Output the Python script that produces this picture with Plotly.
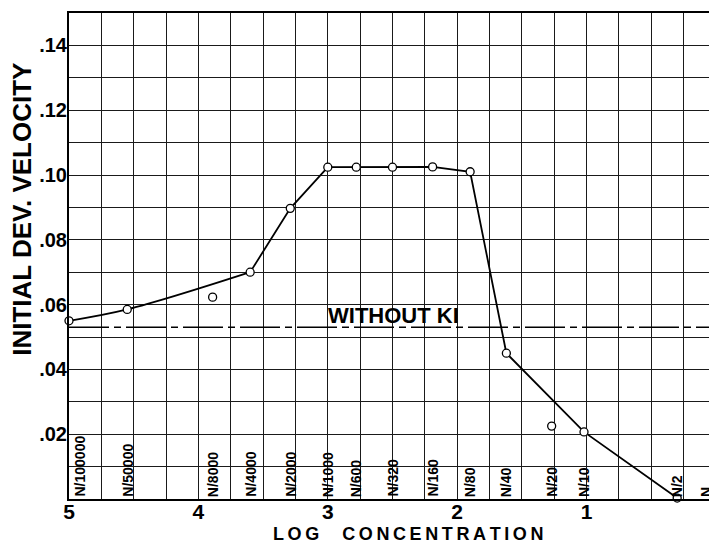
import plotly.graph_objects as go

# ---- data ----
conc_labels = ["N/100000", "N/50000", "N/8000", "N/4000", "N/2000", "N/1000", "N/600",
               "N/320", "N/160", "N/80", "N/40", "N/20", "N/10", "N/2", "N"]
log_conc = [5.0, 4.55, 3.89, 3.60, 3.29, 3.0, 2.78, 2.5, 2.19, 1.90, 1.62, 1.27, 1.02, 0.30, 0.0]
velocity = [0.055, 0.0585, 0.0623, 0.070, 0.0897, 0.1024, 0.1024, 0.1024, 0.1025, 0.101,
            0.045, 0.0225, 0.0207, 0.0003]
smooth_part = [0, 1, 3]                      # indices joined by the smooth curve
straight_part = [3, 4, 5, 6, 7, 8, 9, 10, 12, 13]   # indices joined by straight segments
without_ki = 0.053
without_ki_label = "WITHOUT KI"

x_ticks = [5, 4, 3, 2, 1]
y_ticks = [0.02, 0.04, 0.06, 0.08, 0.10, 0.12, 0.14]
y_ticktext = [".02", ".04", ".06", ".08", ".10", ".12", ".14"]

FONT = "Liberation Sans, Arial, sans-serif"

fig = go.Figure()

# smooth low part
fig.add_trace(go.Scatter(
    x=[log_conc[i] for i in smooth_part], y=[velocity[i] for i in smooth_part],
    mode="lines", line=dict(color="black", width=1.8, shape="spline", smoothing=1.0),
    showlegend=False, hoverinfo="skip"))
# straight segments
fig.add_trace(go.Scatter(
    x=[log_conc[i] for i in straight_part], y=[velocity[i] for i in straight_part],
    mode="lines", line=dict(color="black", width=1.8),
    showlegend=False, hoverinfo="skip"))
# "without KI" reference line
fig.add_trace(go.Scatter(
    x=[5.0, 0.0], y=[without_ki, without_ki], mode="lines",
    line=dict(color="black", width=1.4, dash="40px,5px,7px,5px"),
    showlegend=False, hoverinfo="skip"))
# data points
fig.add_trace(go.Scatter(
    x=log_conc[:len(velocity)], y=velocity, mode="markers",
    marker=dict(symbol="circle", size=8, color="white", line=dict(color="black", width=1.3)),
    showlegend=False, cliponaxis=False))

# concentration labels
for i, (lab, xv) in enumerate(zip(conc_labels, log_conc)):
    if i == 0:
        xa = "left"
    elif xv == 0.0:
        xa = "right"
    else:
        xa = "center"
    fig.add_annotation(x=xv, y=0, xref="x", yref="y", text="<b>" + lab + "</b>",
                       textangle=-90, showarrow=False, xanchor=xa, yanchor="bottom",
                       font=dict(family=FONT, size=14, color="black"))

fig.add_annotation(x=2.49, y=without_ki, xref="x", yref="y",
                   text="<b>" + without_ki_label + "</b>", showarrow=False,
                   xanchor="center", yanchor="bottom", yshift=-3,
                   font=dict(family=FONT, size=22, color="black"))

# axis titles
fig.add_annotation(x=0, y=0.595, xref="paper", yref="paper", xshift=-47,
                   text="<b>INITIAL DEV. VELOCITY</b>", textangle=-90, showarrow=False,
                   xanchor="center", yanchor="middle",
                   font=dict(family=FONT, size=26, color="black"))
fig.add_annotation(x=0.524, y=0, xref="paper", yref="paper", yshift=-35,
                   text="<b>L\u2009O\u2009G\u2003 C\u2009O\u2009N\u2009C\u2009E\u2009N\u2009T\u2009R\u2009A\u2009T\u2009I\u2009O\u2009N</b>",
                   showarrow=False, xanchor="center", yanchor="middle",
                   font=dict(family=FONT, size=18, color="black"))

xgrid = [5 - 0.25 * k for k in range(21)]
ygrid = [round(0.01 * k, 2) for k in range(16)]

fig.update_xaxes(
    range=[5, 0], tickmode="array", tickvals=xgrid,
    ticktext=[("<b>%d</b>" % v) if v in x_ticks else "" for v in xgrid],
    showgrid=True, gridcolor="#1a1a1a", gridwidth=1.2, zeroline=False,
    showline=True, linecolor="black", linewidth=2, mirror=True, ticks="",
    automargin=False, ticklabelstandoff=-7,
    tickfont=dict(family=FONT, size=21, color="black"))
fig.update_yaxes(
    range=[0, 0.15], tickmode="array", tickvals=ygrid,
    ticktext=[("<b>" + y_ticktext[y_ticks.index(v)] + "</b>") if v in y_ticks else "" for v in ygrid],
    showgrid=True, gridcolor="#1a1a1a", gridwidth=1.2, zeroline=False,
    showline=True, linecolor="black", linewidth=2, mirror=True, ticks="",
    automargin=False, ticklabelstandoff=-4,
    tickfont=dict(family=FONT, size=20, color="black"))

# page body has an 8px margin, so the figure is sized to fit inside the window
fig.update_layout(
    width=709, height=535, margin=dict(l=61, r=1, t=5, b=44, autoexpand=False),
    paper_bgcolor="white", plot_bgcolor="white", showlegend=False)

fig.write_html("out.html")
